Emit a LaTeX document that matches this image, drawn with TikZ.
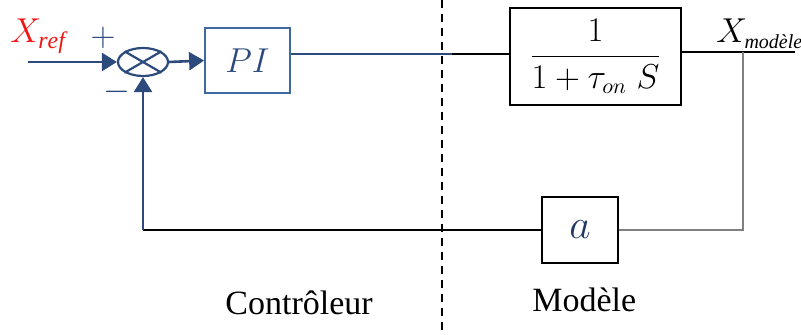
\documentclass[tikz,border=0pt]{standalone}
\usepackage{amsmath}
\usepackage{fontspec}
\setmainfont{Liberation Serif}
\usepackage{tikz}
\usetikzlibrary{arrows.meta,shapes.geometric}
\definecolor{loopblue}{RGB}{44,74,124}
\definecolor{boxblue}{RGB}{65,105,160}
\definecolor{fbgray}{RGB}{128,128,128}
\definecolor{refred}{RGB}{240,20,20}
\tikzset{
  sumnode/.style={draw=loopblue, ellipse, line width=1.1pt, minimum width=25pt, minimum height=14pt, inner sep=0pt},
  pibox/.style={draw=boxblue, line width=0.9pt, minimum width=42.5pt, minimum height=32.5pt, inner sep=0pt, text=loopblue, font=\fontsize{16}{19}\selectfont},
  tfbox/.style={draw=black, line width=0.9pt, minimum width=85.5pt, minimum height=48.5pt, inner sep=0pt, font=\fontsize{16}{19}\selectfont},
  gainbox/.style={draw=black, line width=0.9pt, minimum width=38pt, minimum height=33pt, inner sep=0pt, text=loopblue!80!black, font=\fontsize{20}{22}\selectfont},
  bline/.style={draw=loopblue, line width=1.3pt},
  kline/.style={draw=black, line width=1pt},
  gline/.style={draw=fbgray, line width=1.1pt},
  sigline/.style={bline, -{Triangle[length=7.5pt,width=9pt]}},
  divline/.style={draw=black, line width=0.9pt, dash pattern=on 4pt off 3pt},
  siglabel/.style={font=\fontsize{17}{20}\selectfont, inner sep=0pt},
  zonelabel/.style={font=\fontsize{17}{20}\selectfont, inner sep=0pt}
}

\begin{document}
\begin{tikzpicture}[x=0.5pt,y=-0.5pt]
  \useasboundingbox (0,0) rectangle (801,335);
  % blocks
  \node[sumnode] (sum) at (143,62) {};
  \draw[loopblue, line width=1.1pt] (sum.north west) -- (sum.south east);
  \draw[loopblue, line width=1.1pt] (sum.north east) -- (sum.south west);
  \node[pibox] (pi) at (247.5,60.5) {$PI$};
  \node[tfbox] (tf) at (595.5,56.5) {$\dfrac{1}{1+\tau_{on}\;S}$};
  \node[gainbox] (gain) at (580,230) {$a$};

  % signals
  \coordinate (xin) at (28,62);
  \coordinate (cut) at (452,54);
  \coordinate (xout) at (795,52);
  \coordinate (tap) at (743,52);
  \coordinate (corner) at (143,230);
  \draw[sigline] (xin) -- (sum.west);
  \draw[sigline] (sum.east) -- (pi.west);
  \draw[bline] ([yshift=3.25pt]pi.east) -- (cut);
  \draw[kline] (cut) -- (cut -| tf.west);
  \draw[kline] ([yshift=2.25pt]tf.east) -- (xout);
  \draw[gline] (tap) -- (tap |- gain) -- (gain.east);
  \draw[kline] (gain.west) -- (corner);
  \draw[sigline] (corner) -- (sum.south);

  % labels
  \node[siglabel, anchor=base west, text=refred] (xref) at (10,43) {$X_{\mathit{ref}}$};
  \node[siglabel, anchor=base west] (xmod) at (716,43) {$X_{\mbox{\fontsize{10}{12}\selectfont\itshape modèle}}$};
  \node[siglabel, text=loopblue] (plus) at (103,38) {$+$};
  \node[siglabel, text=loopblue] (minus) at (117,92) {$-$};

  % split controller / model
  \draw[divline] (442,0) -- (442,335);
  \node[zonelabel, anchor=base west] (ctrl) at (225,315) {Contrôleur};
  \node[zonelabel, anchor=base west] (model) at (532,312) {Modèle};
\end{tikzpicture}
\end{document}
